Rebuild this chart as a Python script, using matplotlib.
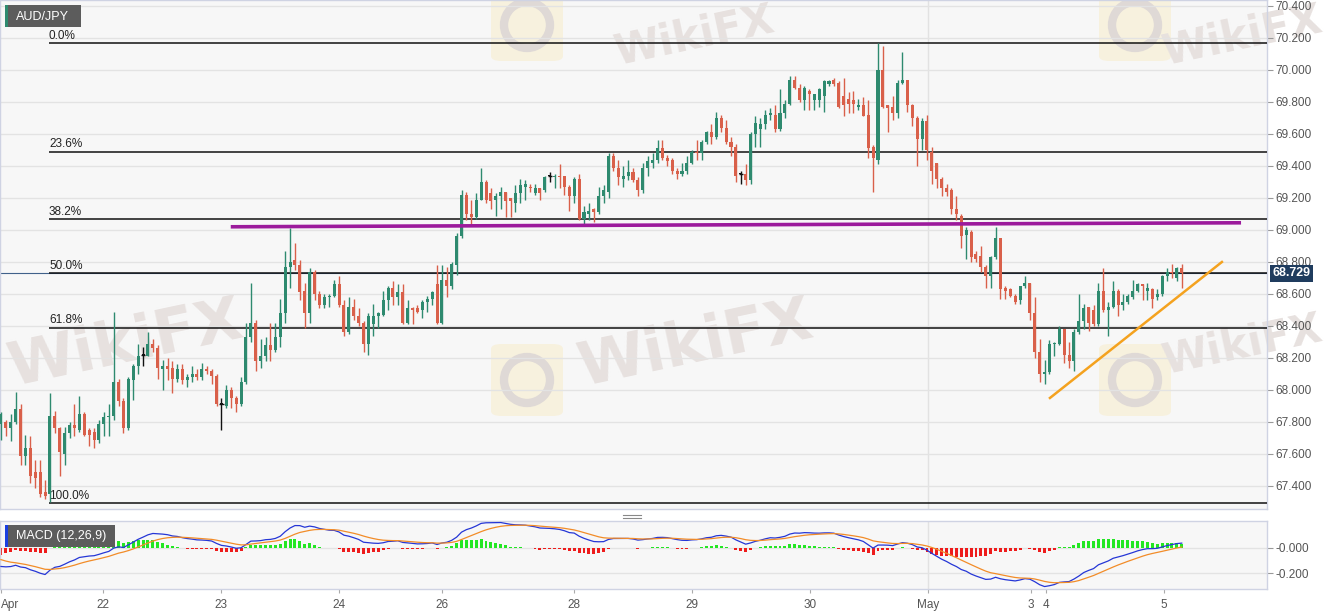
import numpy as np
import matplotlib
matplotlib.use("Agg")
import matplotlib.pyplot as plt
import matplotlib.transforms as mtransforms
from matplotlib.patches import Rectangle, FancyBboxPatch, Ellipse
from matplotlib.ticker import FuncFormatter

plt.rcParams['font.family'] = ['Liberation Sans', 'DejaVu Sans']

# AUD/JPY hourly candles
opens = [67.79, 67.80, 67.76, 67.80, 67.88, 67.59, 67.64, 67.49, 67.49, 67.36,
         67.35, 67.84, 67.76, 67.60, 67.73, 67.78, 67.75, 67.85, 67.75, 67.74,
         67.69, 67.79, 67.83, 67.84, 68.05, 67.93, 67.76, 68.06, 68.15, 68.22,
         68.21, 68.29, 68.26, 68.13, 68.15, 68.14, 68.07, 68.13, 68.06, 68.08,
         68.10, 68.08, 68.13, 68.12, 68.09, 67.91, 67.90, 68.00, 67.95, 67.91,
         68.05, 68.33, 68.42, 68.18, 68.21, 68.28, 68.25, 68.33, 68.48, 68.77,
         68.81, 68.78, 68.62, 68.48, 68.74, 68.60, 68.53, 68.58, 68.59, 68.66,
         68.53, 68.36, 68.52, 68.46, 68.42, 68.29, 68.41, 68.46, 68.47, 68.56,
         68.64, 68.58, 68.61, 68.42, 68.51, 68.51, 68.50, 68.55, 68.57, 68.66,
         68.42, 68.69, 68.65, 68.78, 68.96, 69.22, 69.10, 69.08, 69.19, 69.30,
         69.23, 69.19, 69.21, 69.24, 69.20, 69.17, 69.23, 69.27, 69.27, 69.23,
         69.26, 69.25, 69.34, 69.33, 69.34, 69.34, 69.27, 69.21, 69.32, 69.07,
         69.10, 69.13, 69.11, 69.21, 69.24, 69.46, 69.39, 69.32, 69.34, 69.36,
         69.31, 69.25, 69.39, 69.42, 69.44, 69.51, 69.45, 69.44, 69.37, 69.35,
         69.37, 69.42, 69.49, 69.48, 69.55, 69.61, 69.58, 69.70, 69.64, 69.55,
         69.52, 69.35, 69.35, 69.31, 69.60, 69.63, 69.66, 69.72, 69.72, 69.63,
         69.73, 69.79, 69.94, 69.89, 69.81, 69.87, 69.81, 69.81, 69.84, 69.91,
         69.94, 69.92, 69.84, 69.82, 69.81, 69.77, 69.78, 69.72, 69.52, 69.44,
         70.00, 69.78, 69.77, 69.73, 69.92, 69.94, 69.78, 69.70, 69.57, 69.68,
         69.49, 69.42, 69.32, 69.26, 69.25, 69.13, 69.09, 68.97, 68.99, 68.85,
         68.84, 68.77, 68.71, 68.83, 68.95, 68.64, 68.63, 68.59, 68.56, 68.65,
         68.67, 68.48, 68.24, 68.10, 68.11, 68.288, 68.29, 68.38, 68.22, 68.18,
         68.36, 68.43, 68.52, 68.50, 68.41, 68.62, 68.50, 68.52, 68.62, 68.53,
         68.55, 68.58, 68.62, 68.66, 68.62, 68.63, 68.58, 68.60, 68.71, 68.74,
         68.70, 68.76]
highs = [67.86, 67.81, 67.85, 67.99, 67.91, 67.72, 67.71, 67.56, 67.56, 67.44,
         67.98, 67.87, 67.77, 67.77, 67.80, 67.91, 67.96, 67.86, 67.76, 67.76,
         67.81, 67.86, 67.91, 68.49, 68.07, 67.95, 68.08, 68.16, 68.29, 68.27,
         68.36, 68.32, 68.28, 68.19, 68.20, 68.18, 68.16, 68.16, 68.10, 68.15,
         68.13, 68.17, 68.15, 68.13, 68.10, 67.95, 68.03, 68.02, 67.96, 68.08,
         68.42, 68.67, 68.44, 68.32, 68.33, 68.42, 68.42, 68.57, 68.87, 69.01,
         68.92, 68.81, 68.67, 68.76, 68.75, 68.62, 68.60, 68.60, 68.69, 68.71,
         68.56, 68.58, 68.57, 68.51, 68.43, 68.48, 68.54, 68.49, 68.62, 68.65,
         68.68, 68.66, 68.66, 68.56, 68.52, 68.53, 68.56, 68.59, 68.62, 68.78,
         68.78, 68.77, 68.80, 68.98, 69.25, 69.24, 69.19, 69.23, 69.39, 69.31,
         69.26, 69.23, 69.27, 69.24, 69.20, 69.28, 69.32, 69.31, 69.29, 69.29,
         69.26, 69.34, 69.36, 69.35, 69.41, 69.34, 69.28, 69.33, 69.35, 69.15,
         69.17, 69.14, 69.27, 69.28, 69.48, 69.48, 69.44, 69.40, 69.44, 69.39,
         69.33, 69.42, 69.46, 69.48, 69.56, 69.56, 69.47, 69.45, 69.39, 69.42,
         69.46, 69.50, 69.56, 69.56, 69.62, 69.66, 69.74, 69.72, 69.69, 69.58,
         69.54, 69.37, 69.41, 69.61, 69.71, 69.70, 69.75, 69.76, 69.78, 69.88,
         69.81, 69.96, 69.96, 69.91, 69.90, 69.88, 69.85, 69.89, 69.94, 69.94,
         69.95, 69.93, 69.95, 69.86, 69.87, 69.82, 69.83, 69.81, 69.53, 70.17,
         70.15, 69.78, 69.84, 69.94, 70.11, 69.94, 69.79, 69.71, 69.70, 69.72,
         69.52, 69.42, 69.33, 69.29, 69.26, 69.21, 69.10, 69.02, 69.00, 68.87,
         68.90, 68.78, 68.84, 69.02, 68.95, 68.65, 68.64, 68.60, 68.65, 68.71,
         68.67, 68.58, 68.32, 68.19, 68.31, 68.30, 68.40, 68.38, 68.30, 68.38,
         68.60, 68.54, 68.52, 68.53, 68.67, 68.76, 68.55, 68.68, 68.63, 68.60,
         68.60, 68.69, 68.67, 68.66, 68.67, 68.64, 68.63, 68.72, 68.76, 68.79,
         68.77, 68.79]
lows = [67.69, 67.71, 67.68, 67.79, 67.53, 67.53, 67.42, 67.39, 67.33, 67.32,
        67.30, 67.73, 67.46, 67.53, 67.70, 67.71, 67.74, 67.71, 67.65, 67.64,
        67.67, 67.71, 67.71, 67.81, 67.90, 67.73, 67.75, 67.94, 68.10, 68.15,
        68.21, 68.24, 68.07, 68.00, 68.06, 67.98, 68.05, 68.04, 68.02, 68.05,
        68.06, 68.06, 68.10, 68.04, 67.90, 67.75, 67.89, 67.89, 67.86, 67.90,
        68.04, 68.30, 68.12, 68.14, 68.18, 68.18, 68.24, 68.27, 68.42, 68.64,
        68.75, 68.56, 68.39, 68.42, 68.56, 68.51, 68.51, 68.52, 68.58, 68.52,
        68.34, 68.35, 68.44, 68.40, 68.24, 68.22, 68.34, 68.39, 68.46, 68.50,
        68.53, 68.53, 68.41, 68.41, 68.41, 68.48, 68.45, 68.49, 68.53, 68.41,
        68.41, 68.58, 68.63, 68.72, 68.95, 69.06, 69.03, 69.07, 69.19, 69.17,
        69.13, 69.09, 69.13, 69.08, 69.08, 69.11, 69.17, 69.19, 69.24, 69.22,
        69.19, 69.24, 69.30, 69.26, 69.26, 69.22, 69.12, 69.17, 69.06, 69.04,
        69.06, 69.05, 69.10, 69.17, 69.20, 69.37, 69.28, 69.27, 69.31, 69.30,
        69.21, 69.23, 69.34, 69.39, 69.42, 69.44, 69.40, 69.35, 69.32, 69.34,
        69.35, 69.41, 69.44, 69.44, 69.54, 69.54, 69.57, 69.61, 69.54, 69.46,
        69.30, 69.29, 69.28, 69.29, 69.52, 69.52, 69.63, 69.69, 69.61, 69.62,
        69.70, 69.78, 69.88, 69.80, 69.75, 69.75, 69.75, 69.77, 69.74, 69.90,
        69.90, 69.76, 69.71, 69.73, 69.73, 69.75, 69.71, 69.45, 69.24, 69.41,
        69.76, 69.61, 69.69, 69.70, 69.91, 69.74, 69.65, 69.40, 69.50, 69.44,
        69.29, 69.26, 69.21, 69.21, 69.10, 69.06, 68.89, 68.82, 68.80, 68.80,
        68.74, 68.64, 68.64, 68.82, 68.57, 68.57, 68.58, 68.54, 68.54, 68.64,
        68.44, 68.20, 68.05, 68.04, 68.10, 68.21, 68.28, 68.17, 68.14, 68.12,
        68.35, 68.38, 68.37, 68.40, 68.40, 68.49, 68.34, 68.51, 68.46, 68.50,
        68.54, 68.57, 68.61, 68.56, 68.56, 68.51, 68.56, 68.59, 68.68, 68.70,
        68.68, 68.64]
closes = [67.85, 67.76, 67.80, 67.88, 67.59, 67.64, 67.46, 67.45, 67.35, 67.34,
          67.84, 67.76, 67.61, 67.73, 67.78, 67.76, 67.85, 67.72, 67.72, 67.69,
          67.79, 67.83, 67.84, 68.05, 67.93, 67.76, 68.07, 68.15, 68.21, 68.22,
          68.29, 68.26, 68.14, 68.15, 68.13, 68.07, 68.13, 68.06, 68.08, 68.10,
          68.08, 68.13, 68.12, 68.09, 67.91, 67.91, 68.00, 67.95, 67.91, 68.05,
          68.33, 68.42, 68.18, 68.21, 68.28, 68.25, 68.33, 68.48, 68.77, 68.80,
          68.78, 68.61, 68.48, 68.74, 68.60, 68.53, 68.58, 68.59, 68.66, 68.53,
          68.36, 68.52, 68.46, 68.42, 68.29, 68.46, 68.46, 68.48, 68.56, 68.64,
          68.58, 68.61, 68.42, 68.51, 68.50, 68.49, 68.55, 68.57, 68.61, 68.42,
          68.69, 68.65, 68.79, 68.96, 69.22, 69.10, 69.08, 69.19, 69.30, 69.19,
          69.18, 69.21, 69.24, 69.18, 69.18, 69.23, 69.28, 69.29, 69.26, 69.26,
          69.23, 69.33, 69.34, 69.34, 69.33, 69.27, 69.21, 69.32, 69.07, 69.11,
          69.12, 69.11, 69.21, 69.25, 69.46, 69.39, 69.33, 69.34, 69.36, 69.31,
          69.25, 69.39, 69.43, 69.44, 69.51, 69.45, 69.43, 69.37, 69.35, 69.37,
          69.42, 69.49, 69.48, 69.55, 69.61, 69.58, 69.70, 69.64, 69.55, 69.52,
          69.34, 69.35, 69.31, 69.60, 69.67, 69.66, 69.72, 69.73, 69.63, 69.73,
          69.79, 69.94, 69.89, 69.81, 69.89, 69.85, 69.85, 69.88, 69.93, 69.93,
          69.91, 69.77, 69.78, 69.79, 69.79, 69.78, 69.71, 69.51, 69.45, 70.00,
          69.77, 69.76, 69.73, 69.92, 69.94, 69.78, 69.70, 69.57, 69.68, 69.50,
          69.37, 69.32, 69.26, 69.24, 69.13, 69.10, 68.96, 69.00, 68.83, 68.82,
          68.77, 68.71, 68.83, 68.95, 68.63, 68.62, 68.59, 68.55, 68.65, 68.67,
          68.48, 68.24, 68.10, 68.11, 68.29, 68.295, 68.38, 68.22, 68.18, 68.36,
          68.43, 68.51, 68.42, 68.41, 68.62, 68.50, 68.52, 68.62, 68.53, 68.55,
          68.59, 68.62, 68.66, 68.65, 68.64, 68.57, 68.60, 68.71, 68.74, 68.73,
          68.76, 68.73]

# x axis day labels and the bar index they sit at
day_labels = ['Apr', '22', '23', '24', '26', '28', '29', '30', 'May', '3', '4', '5']
day_pos = [0, 20.8, 44.9, 69.0, 90.0, 117.0, 141.1, 165.1, 189.2, 210.2, 213.3, 237.3]

# fibonacci retracement
fib_high = 70.167
fib_low = 67.292
fib_ratios = [0.0, 0.236, 0.382, 0.5, 0.618, 1.0]
fib_labels = ['0.0%', '23.6%', '38.2%', '50.0%', '61.8%', '100.0%']
fib_start = 9.8

# drawn lines (bar index, price)
resist_x = [46.9, 253.1]
resist_y = [69.02, 69.045]
support_x = [214.1, 249.2]
support_y = [67.95, 68.80]

last_price = 68.729

# MACD(12,26,9) state at the first bar, estimated from the lower pane
fast_start = 67.95
slow_start = 68.10
signal_start = -0.08

green = '#2e8a6f'
red = '#d9604a'

W, H = 1331, 615


def fx(x):
    return x / W


def fy(y):
    return 1 - y / H


def ema(values, n, start):
    k = 2.0 / (n + 1)
    out = []
    prev = start
    for v in values:
        prev = prev + k * (v - prev)
        out.append(prev)
    return np.array(out)


o = np.array(opens)
h = np.array(highs)
l = np.array(lows)
c = np.array(closes)
x = np.arange(len(c))

fast = ema(c, 12, fast_start)
slow = ema(c, 26, slow_start)
macd = fast - slow
signal = ema(macd, 9, signal_start)
hist = macd - signal

fig = plt.figure(figsize=(W / 100, H / 100), dpi=100)
fig.patch.set_facecolor('white')
ax = fig.add_axes([0, fy(509), fx(1267), 509 / H])
mx = fig.add_axes([0, fy(589), fx(1267), (589 - 520.7) / H])

xlim = (-0.2, 258.4)
for a in (ax, mx):
    a.set_facecolor('#f7f7f7')
    a.set_xlim(*xlim)
    for s in a.spines.values():
        s.set_color('#cfd3e3')
        s.set_linewidth(1)
    a.set_axisbelow(True)
    a.grid(axis='y', color='#e3e3e3', lw=1)
    a.axvline(day_pos[8], color='#e2e2e2', lw=1, zorder=0.5)

# watermarks (logo squares + text), kept inside the picture and under the tick labels
for lx, ly in [(527, 25), (1135, 25), (527, 380), (1135, 380)]:
    sq = FancyBboxPatch((fx(lx - 36), fy(ly + 36)), fx(72), 72 / H,
                        boxstyle='round,pad=0,rounding_size=0.008',
                        transform=fig.transFigure, fc='#f8f0d8', ec='none',
                        alpha=0.8, zorder=0.2, clip_on=False)
    ax.add_patch(sq)
    ring = Ellipse((fx(lx), fy(ly)), fx(46), 46 / H, transform=fig.transFigure,
                   fc='none', ec='#dfd9d6', lw=6, zorder=0.3, clip_on=False)
    ax.add_patch(ring)
for tx, ty, fs in [(695, 345, 44), (125, 345, 44), (695, 36, 30),
                   (1243, 36, 30), (1243, 345, 30)]:
    ax.text(fx(tx), fy(ty), 'WikiFX', transform=fig.transFigure,
            fontsize=fs, fontweight='bold', color='#e7e1df', rotation=12,
            ha='center', va='center', zorder=0.3, family='DejaVu Sans', clip_on=False)

# price line and fibonacci levels
ax.axhline(last_price, color='#40618a', lw=0.8, zorder=2.5)
for r, lab in zip(fib_ratios, fib_labels):
    lvl = fib_high - r * (fib_high - fib_low)
    ax.hlines(lvl, fib_start, xlim[1], color='#111111', lw=1.1, zorder=3)
    ax.annotate(lab, (fib_start, lvl), xytext=(0, 1), textcoords='offset points',
                fontsize=8.5, color='#222222', ha='left', va='bottom', zorder=3)

# candles
colors = np.where(c > o, green, np.where(c < o, red, '#111111'))
top = np.maximum(o, c)
bot = np.minimum(o, c)
ax.vlines(x, np.minimum(l, bot), np.maximum(h, top), colors=colors, lw=1, zorder=4)
ax.bar(x, np.maximum(top - bot, 0.006), bottom=bot, width=0.62, color=colors,
       linewidth=0, zorder=5)
doji = c == o
ax.hlines(c[doji], x[doji] - 0.45, x[doji] + 0.45, colors='#111111', lw=1, zorder=5)

ax.plot(resist_x, resist_y, color='#9c1b9c', lw=2.6, solid_capstyle='butt', zorder=6)
ax.plot(support_x, support_y, color='#f4a21f', lw=1.8, zorder=6)

ax.set_ylim(67.256, 70.4375)
ax.set_yticks(np.arange(67.4, 70.41, 0.2))
ax.yaxis.set_major_formatter(FuncFormatter(lambda v, p: '%.3f' % v))
ax.yaxis.tick_right()
ax.tick_params(axis='y', length=4, color='#999999', labelsize=8.5,
               labelcolor='#555555', pad=2)
ax.tick_params(axis='x', bottom=False, labelbottom=False)

trans = mtransforms.blended_transform_factory(ax.transAxes, ax.transData)
ax.annotate('%.3f' % last_price, xy=(1.0, last_price), xycoords=trans,
            xytext=(4, 0), textcoords='offset points', ha='left', va='center',
            color='white', fontweight='bold', fontsize=9,
            bbox=dict(boxstyle='square,pad=0.2', fc='#1f3c5e', ec='none'),
            annotation_clip=False, zorder=7)

# MACD pane
mx.bar(x, hist, width=0.6, color=np.where(hist >= 0, '#22e622', '#ee1c1c'),
       linewidth=0, zorder=2)
mx.plot(x, macd, color='#2536d6', lw=0.9, zorder=3)
mx.plot(x, signal, color='#f28c28', lw=0.9, zorder=3)
mx.set_ylim(-0.323, 0.211)
mx.set_yticks([-0.2, 0.0])
mx.set_yticklabels(['-0.200', '-0.000'])
mx.yaxis.tick_right()
mx.tick_params(axis='y', length=4, color='#999999', labelsize=8.5,
               labelcolor='#555555', pad=2)
mx.set_xticks(day_pos)
mx.set_xticklabels(day_labels)
mx.tick_params(axis='x', length=3, color='#aaaaaa', labelsize=8.5,
               labelcolor='#555555', pad=4)
mx.get_xticklabels()[0].set_horizontalalignment('left')

# label boxes
fig.patches.append(Rectangle((fx(5), fy(27)), fx(76), 22 / H, transform=fig.transFigure,
                             fc='#5c5c5c', ec='none', zorder=8))
fig.patches.append(Rectangle((fx(5), fy(27)), fx(2.5), 22 / H, transform=fig.transFigure,
                             fc='#2e8a6f', ec='none', zorder=9))
fig.text(fx(16), fy(16.5), 'AUD/JPY', color='white', fontsize=9, va='center',
         ha='left', zorder=10)
fig.patches.append(Rectangle((fx(5), fy(547)), fx(110), 22 / H, transform=fig.transFigure,
                             fc='#5c5c5c', ec='none', zorder=8))
fig.patches.append(Rectangle((fx(5), fy(547)), fx(3), 22 / H, transform=fig.transFigure,
                             fc='#1a3fe0', ec='none', zorder=9))
fig.text(fx(16), fy(536.5), 'MACD (12,26,9)', color='white', fontsize=9, va='center',
         ha='left', zorder=10)

# pane resize handle
for yy in (515, 517.5):
    fig.lines.append(plt.Line2D([fx(623), fx(641)], [fy(yy), fy(yy)],
                                transform=fig.transFigure, color='#888888', lw=0.8))

fig.savefig('out.png', dpi=100)
